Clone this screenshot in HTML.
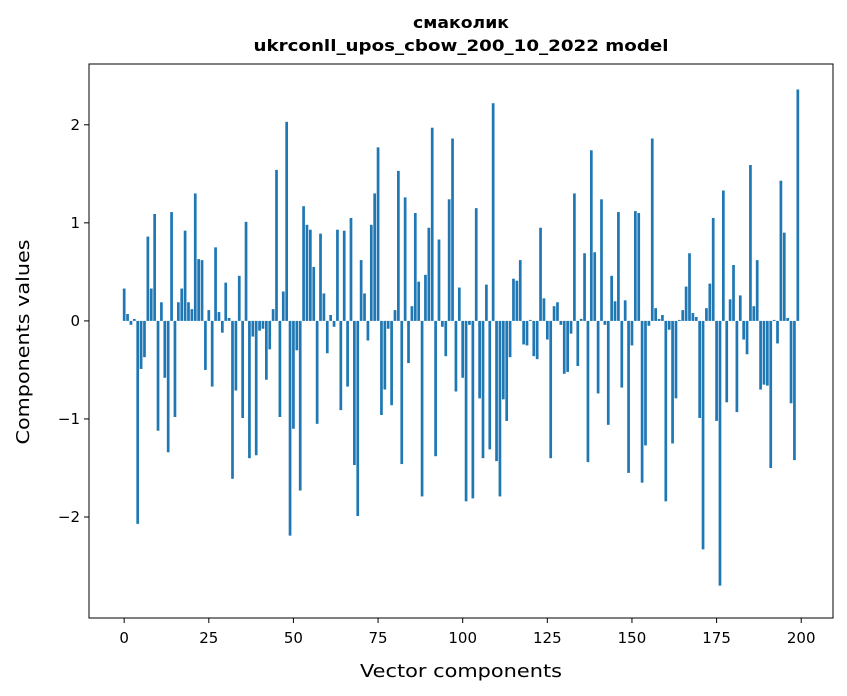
<!DOCTYPE html>
<html><head><meta charset="utf-8"><style>
html,body{margin:0;padding:0;background:#fff;}
svg{display:block;font-family:"DejaVu Sans","Liberation Sans",sans-serif;}
</style></head><body>
<svg id="chart" width="847" height="696" viewBox="0 0 847 696" xmlns="http://www.w3.org/2000/svg">
<rect width="847" height="696" fill="#fff"/>
<text x="461" y="28" text-anchor="middle" font-size="16" font-weight="bold" textLength="96" lengthAdjust="spacingAndGlyphs">смаколик</text>
<text x="461" y="51" text-anchor="middle" font-size="16" font-weight="bold" textLength="415" lengthAdjust="spacingAndGlyphs">ukrconll_upos_cbow_200_10_2022 model</text>
<g id="bars"></g>
<g id="axes"></g>
<rect x="89" y="64" width="744" height="554" fill="none" stroke="#000" stroke-width="1"/>
<text x="461" y="677" text-anchor="middle" font-size="18" textLength="202" lengthAdjust="spacingAndGlyphs">Vector components</text>
<text x="29" y="342" text-anchor="middle" font-size="18" textLength="205" lengthAdjust="spacingAndGlyphs" transform="rotate(-90 29 342)">Components values</text>
</svg>
<script>
const values = [0.33,0.07,-0.04,0.02,-2.07,-0.49,-0.37,0.86,0.33,1.09,
-1.12,0.19,-0.58,-1.34,1.11,-0.98,0.19,0.33,0.92,0.19,
0.12,1.30,0.63,0.62,-0.50,0.11,-0.67,0.75,0.09,-0.12,
0.39,0.03,-1.61,-0.71,0.46,-0.99,1.01,-1.40,-0.16,-1.37,
-0.10,-0.08,-0.60,-0.29,0.12,1.54,-0.98,0.30,2.03,-2.19,
-1.10,-0.30,-1.73,1.17,0.98,0.93,0.55,-1.05,0.89,0.28,
-0.33,0.06,-0.06,0.93,-0.91,0.92,-0.67,1.05,-1.47,-1.99,
0.62,0.28,-0.20,0.98,1.30,1.77,-0.96,-0.70,-0.08,-0.86,
0.11,1.53,-1.46,1.26,-0.43,0.15,1.10,0.40,-1.79,0.47,
0.95,1.97,-1.38,0.83,-0.06,-0.36,1.24,1.86,-0.72,0.34,
-0.58,-1.84,-0.04,-1.81,1.15,-0.79,-1.40,0.37,-1.31,2.22,
-1.43,-1.79,-0.80,-1.02,-0.37,0.43,0.41,0.62,-0.24,-0.25,
0.01,-0.36,-0.39,0.95,0.23,-0.19,-1.40,0.15,0.19,-0.04,
-0.54,-0.52,-0.13,1.30,-0.46,0.02,0.69,-1.44,1.74,0.70,
-0.74,1.24,-0.04,-1.06,0.46,0.20,1.11,-0.68,0.21,-1.55,
-0.25,1.12,1.10,-1.65,-1.27,-0.05,1.86,0.13,0.02,0.06,
-1.84,-0.09,-1.25,-0.79,0.01,0.11,0.35,0.69,0.08,0.04,
-0.99,-2.33,0.13,0.38,1.05,-1.02,-2.70,1.33,-0.83,0.22,
0.57,-0.93,0.26,-0.19,-0.34,1.59,0.15,0.62,-0.70,-0.65,
-0.66,-1.50,0.01,-0.23,1.43,0.90,0.03,-0.84,-1.42,2.36];
const xTicks = [0,25,50,75,100,125,150,175,200];
const yTicks = [-2,-1,0,1,2];

const NS = "http://www.w3.org/2000/svg";
const L=89,R=833,T=64,B=618;
const n = values.length;
const xMin=-0.4-0.05*(n-0.2), xMax=(n-1)+0.4+0.05*(n-0.2);
const yMin=-3.03, yMax=2.62;
function xs(v){return L+(v-xMin)/(xMax-xMin)*(R-L);}
function ys(v){return B-(v-yMin)/(yMax-yMin)*(B-T);}
const bars=document.getElementById('bars');
const bw=xs(0.8)-xs(0);
values.forEach((v,i)=>{
  const r=document.createElementNS(NS,'rect');
  const y0=ys(0), y1=ys(v);
  r.setAttribute('x',xs(i)-bw/2);
  r.setAttribute('y',Math.min(y0,y1));
  r.setAttribute('width',bw);
  r.setAttribute('height',Math.max(Math.abs(y1-y0),0.3));
  r.setAttribute('fill','#1f77b4');
  
  
  bars.appendChild(r);
});
const axes=document.getElementById('axes');
xTicks.forEach(t=>{
  const x=xs(t);
  const l=document.createElementNS(NS,'line');
  l.setAttribute('x1',x);l.setAttribute('x2',x);l.setAttribute('y1',B);l.setAttribute('y2',B+5);
  l.setAttribute('stroke','#000');
  
  
  axes.appendChild(l);
  const tx=document.createElementNS(NS,'text');
  tx.setAttribute('x',x);tx.setAttribute('y',B+25);tx.setAttribute('text-anchor','middle');tx.setAttribute('font-size','15');
  tx.textContent=String(t);
  
  
  axes.appendChild(tx);
});
yTicks.forEach(t=>{
  const y=ys(t);
  const l=document.createElementNS(NS,'line');
  l.setAttribute('x1',L-5);l.setAttribute('x2',L);l.setAttribute('y1',y);l.setAttribute('y2',y);
  l.setAttribute('stroke','#000');
  
  
  axes.appendChild(l);
  const tx=document.createElementNS(NS,'text');
  tx.setAttribute('x',L-9);tx.setAttribute('y',y+5);tx.setAttribute('text-anchor','end');tx.setAttribute('font-size','15');
  tx.textContent=(t<0?'\u2212'+Math.abs(t):String(t));
  
  
  axes.appendChild(tx);
});
</script>
</body></html>
